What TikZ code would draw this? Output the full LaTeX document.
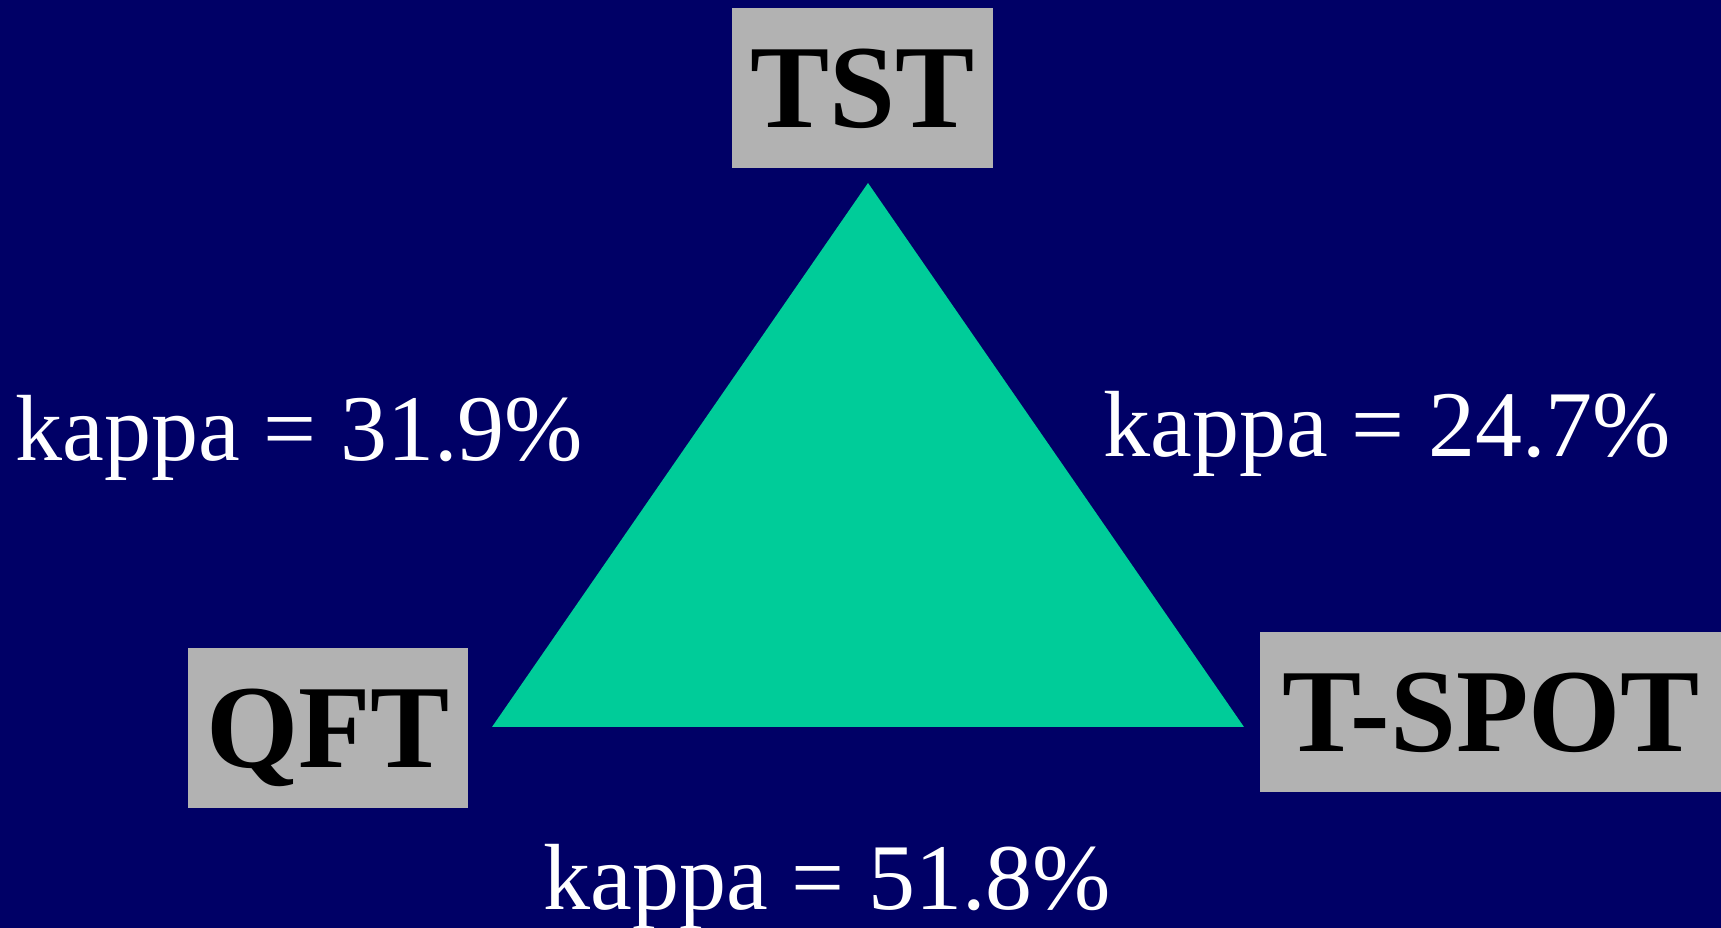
\documentclass[tikz,border=0pt]{standalone}
\usepackage{fontspec}
\setmainfont{Liberation Serif}
\usepackage{tikz}
\usetikzlibrary{positioning, calc}
\definecolor{SlideNavy}{HTML}{000066}
\definecolor{TriGreen}{HTML}{00CC99}
\definecolor{BoxGray}{HTML}{B2B2B2}

\tikzset{
  testbox/.style={fill=BoxGray, text=black, inner sep=0pt, minimum height=160*0.02cm,
    text height=45pt, text depth=0pt, font=\fontsize{67.5}{78}\selectfont\bfseries},
  kappalbl/.style={text=white, inner sep=0pt, anchor=base, font=\fontsize{53.5}{62}\selectfont}
}

\begin{document}
\begin{tikzpicture}[x=0.02cm, y=-0.02cm]
                % Background
                \useasboundingbox (0,0) rectangle (1721,928);
                \fill[SlideNavy] (0,0) rectangle (1721,928);

                % Triangle
                \coordinate (apex) at (868,183);
                \coordinate (baseL) at (492,727);
                \coordinate (baseR) at (1244,727);
                \fill[TriGreen] (apex) -- (baseL) -- (baseR) -- cycle;

                % Nodes
                \node (tst) [testbox, minimum width=261*0.02cm] at (862.5,88) {TST};
                \node (qft) [testbox, minimum width=280*0.02cm] at (328,728) {QFT};
                \node (tspot) [testbox, anchor=west, inner xsep=22*0.02cm, text width=426*0.02cm, align=left] at (1260,712) {T-SPOT};

                % Kappa labels
                \node (kleft) [kappalbl] at (299.5,461) {kappa = 31.9\%};
                \node (kright) [kappalbl] at (1387.5,457) {kappa = 24.7\%};
                \node (kbottom) [kappalbl] at (827.5,909) {kappa = 51.8\%};
\end{tikzpicture}
\end{document}
